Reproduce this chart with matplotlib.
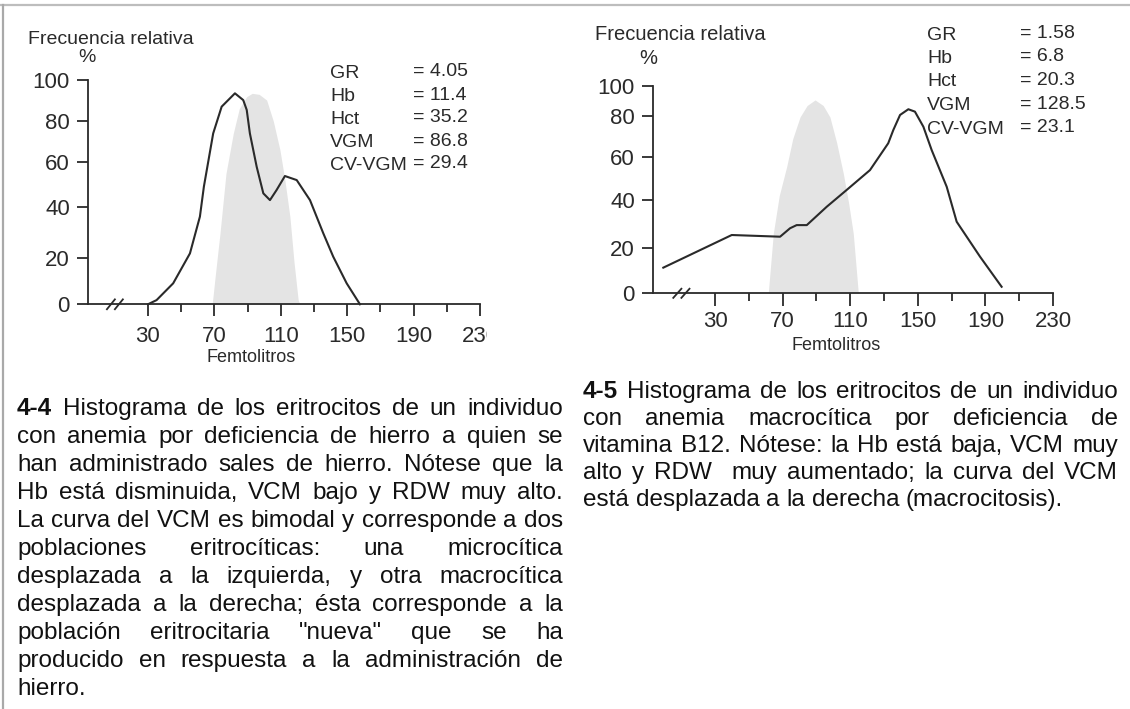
import matplotlib

matplotlib.use("Agg")
import matplotlib.pyplot as plt
import numpy as np
from matplotlib.lines import Line2D
from matplotlib.transforms import Bbox, TransformedBbox, blended_transform_factory

plt.rcParams["font.family"] = ["Liberation Sans", "DejaVu Sans"]

W, H = 1130, 709

# ---------------- data ----------------
x_major = [30, 70, 110, 150, 190, 230]
x_minor = [50, 90, 130, 170, 210]
y_ticks = [0, 20, 40, 60, 80, 100]

# Fig 4-4: iron deficiency after iron salts (bimodal)
left_vol = [30, 35.2, 45.2, 55.3, 61.3, 63.7, 69.3, 74.4, 82.4, 87.4, 89.5, 91.4,
            95.5, 99.5, 103.5, 107.5, 112.5, 119.6, 127.6, 135.6, 141.6, 149.7, 157.7]
left_freq = [0, 1.8, 9, 21.7, 36.3, 49.2, 74, 87, 93.5, 90.2, 85.4, 74,
             58, 46.2, 43.2, 47.7, 53.9, 52.1, 43.2, 29.7, 20.4, 9, 0]
left_ref_vol = [68.7, 70.5, 73.4, 77, 81.4, 85, 89.5, 92.8, 97, 101.5, 105.5,
                109.5, 112.5, 115.5, 118, 120.5, 121.6]
left_ref_freq = [0, 12, 29.7, 55, 74, 86, 91.9, 93.5, 93, 90.2, 80,
                 66, 52, 36.3, 18, 1.8, 0]
left_names = ["GR", "Hb", "Hct", "VGM", "CV-VGM"]
left_values = ["4.05", "11.4", "35.2", "86.8", "29.4"]

# Fig 4-5: B12 deficiency (macrocytic)
right_vol = [-0.6, 39.9, 68.5, 74.4, 78.3, 84.3, 96.1, 107.9, 121.7, 132.5, 135.5,
             139.5, 144.4, 148.3, 153.3, 158.2, 167.1, 173, 186.8, 199.6]
right_freq = [11.4, 25.5, 24.8, 28.3, 29.6, 29.6, 37.2, 44.7, 54, 66.8, 73.2,
              80.7, 84.5, 82.9, 74.8, 63.5, 46.2, 31, 16.3, 2.9]
right_ref_vol = [61.5, 64.5, 68, 72.4, 76, 80.3, 84.5, 89.2, 94, 98, 102, 105.9, 109, 111.8, 114.8]
right_ref_freq = [0, 26.2, 42, 55.6, 69, 79.5, 87, 90.7, 87, 79.5, 67, 52.5, 39, 26.2, 0]
right_names = ["GR", "Hb", "Hct", "VGM", "CV-VGM"]
right_values = ["1.58", "6.8", "20.3", "128.5", "23.1"]

caption_left = [
    "4-4 Histograma de los eritrocitos de un individuo",
    "con anemia por deficiencia de hierro a quien se",
    "han administrado sales de hierro. Nótese que la",
    "Hb está disminuida, VCM bajo y RDW muy alto.",
    "La curva del VCM es bimodal y corresponde a dos",
    "poblaciones eritrocíticas: una microcítica",
    "desplazada a la izquierda, y otra macrocítica",
    "desplazada a la derecha; ésta corresponde a la",
    "población eritrocitaria \"nueva\" que se ha",
    "producido en respuesta a la administración de",
    "hierro.",
]
caption_right = [
    "4-5 Histograma de los eritrocitos de un individuo",
    "con anemia macrocítica por deficiencia de",
    "vitamina B12. Nótese: la Hb está baja, VCM muy",
    "alto y RDW  muy aumentado; la curva del VCM",
    "está desplazada a la derecha (macrocitosis).",
]

INK = "#2a2a2a"


def px(x, y):
    return x / W, 1 - y / H


def scanned_yscale(ax, fracs):
    # the printed y axis is not evenly spaced: piecewise linear scale
    lv = np.array(y_ticks, float)
    ps = np.array(fracs, float) * 100

    def lin(v, a, b):
        v = np.asarray(v, float)
        out = np.interp(v, a, b)
        lo = b[0] + (v - a[0]) * (b[1] - b[0]) / (a[1] - a[0])
        hi = b[-1] + (v - a[-1]) * (b[-1] - b[-2]) / (a[-1] - a[-2])
        return np.where(v < a[0], lo, np.where(v > a[-1], hi, out))

    ax.set_yscale("function", functions=(lambda v: lin(v, lv, ps), lambda u: lin(u, ps, lv)))


def draw_panel(ax, vol, freq, ref_vol, ref_freq, xlim, fracs, xpad, xlen):
    ax.fill_between(ref_vol, 0, ref_freq, color="#e4e4e4", lw=0, zorder=1)
    ax.plot(vol, freq, color=INK, lw=1.5, zorder=3, clip_on=False)
    scanned_yscale(ax, fracs)
    ax.set_xlim(*xlim)
    ax.set_ylim(0, 100)
    ax.set_xticks(x_major)
    ax.set_xticks(x_minor, minor=True)
    ax.set_yticks(y_ticks)
    ax.set_yticklabels([str(v) for v in y_ticks])
    ax.yaxis.set_minor_locator(matplotlib.ticker.NullLocator())
    for s in ("top", "right"):
        ax.spines[s].set_visible(False)
    for s in ("left", "bottom"):
        ax.spines[s].set_color(INK)
        ax.spines[s].set_linewidth(1.3)
    ax.tick_params(axis="x", which="major", length=xlen, width=1.3, color=INK,
                   labelsize=16, labelcolor=INK, pad=xpad)
    ax.tick_params(axis="x", which="minor", length=5.5, width=1.3, color=INK)
    ax.tick_params(axis="y", length=8, width=1.3, color=INK, labelsize=16,
                   labelcolor=INK, pad=5)
    ax.patch.set_alpha(0)
    # axis break marks "//"
    tr = blended_transform_factory(ax.transData, ax.transAxes)
    for xc in (7.7, 12.5):
        ax.add_line(Line2D([xc - 2.4, xc + 2.4], [-0.022, 0.022], transform=tr,
                           color=INK, lw=1.3, clip_on=False))


fig = plt.figure(figsize=(W / 100, H / 100), dpi=100)

axL = fig.add_axes([88 / W, 1 - 304.3 / H, 392 / W, 224.3 / H])
draw_panel(axL, left_vol, left_freq, left_ref_vol, left_ref_freq, (-6.1, 230),
           [0, 0.2078, 0.4324, 0.6331, 0.8172, 1.0], xpad=7, xlen=8.5)

axR = fig.add_axes([653 / W, 1 - 293.3 / H, 400 / W, 207.3 / H])
draw_panel(axR, right_vol, right_freq, right_ref_vol, right_ref_freq, (-6.7, 230),
           [0, 0.2171, 0.4501, 0.6561, 0.8553, 1.0], xpad=3, xlen=9.4)

# axis titles and blood counts
fig.text(*px(28, 40), "Frecuencia relativa", fontsize=14, color=INK, va="center")
fig.text(*px(87, 58), "%", fontsize=14, color=INK, va="center", ha="center")
fig.text(*px(251, 358), "Femtolitros", fontsize=13, color=INK, va="center", ha="center")
for i, (n, v) in enumerate(zip(left_names, left_values)):
    fig.text(*px(330, 73 + 23.2 * i), n, fontsize=14, color=INK, va="center")
    fig.text(*px(413, 72 + 23 * i), "= " + v, fontsize=14, color=INK, va="center")

fig.text(*px(595, 35), "Frecuencia relativa", fontsize=14.5, color=INK, va="center")
fig.text(*px(648, 59), "%", fontsize=14.5, color=INK, va="center", ha="center")
fig.text(*px(836, 345), "Femtolitros", fontsize=13, color=INK, va="center", ha="center")
for i, (n, v) in enumerate(zip(right_names, right_values)):
    fig.text(*px(927, 35 + 23.5 * i), n, fontsize=14, color=INK, va="center")
    fig.text(*px(1020, 33 + 23.7 * i), "= " + v, fontsize=14, color=INK, va="center")

# frame lines of the page
fig.add_artist(Line2D([0, 1], [1 - 5 / H] * 2, transform=fig.transFigure, color="#bdbdbd", lw=1.6))
fig.add_artist(Line2D([3 / W] * 2, [0, 1 - 5 / H], transform=fig.transFigure, color="#a9a9a9", lw=1.6))

fig.canvas.draw()
renderer = fig.canvas.get_renderer()

# left panel is cropped just after the "230" label
lab = axL.get_xticklabels()[-1]
lab.set_clip_on(True)
lab.set_clip_box(TransformedBbox(Bbox.from_extents(0, 0, 487 / W, 1), fig.transFigure))


def justified(lines, x0, x1, base0, step, size):
    for i, line in enumerate(lines):
        words = line.split(" ")
        arts = []
        for j, w in enumerate(words):
            weight = "bold" if (i == 0 and j == 0) else "normal"
            arts.append(fig.text(x0 / W, 1 - (base0 + i * step) / H, w, fontsize=size,
                                 fontweight=weight, color="#111111", va="baseline"))
        widths = [a.get_window_extent(renderer).width if a.get_text() else 0 for a in arts]
        if i == len(lines) - 1:
            gap = 0.278 * size * 100 / 72
        else:
            gap = (x1 - x0 - sum(widths)) / (len(arts) - 1)
        x = x0
        for a, w in zip(arts, widths):
            a.set_x(x / W)
            x += w + gap


justified(caption_left, 17, 563, 415, 28, 17.5)
justified(caption_right, 583, 1118, 398, 27, 17.5)

fig.savefig("out.png", dpi=100)
